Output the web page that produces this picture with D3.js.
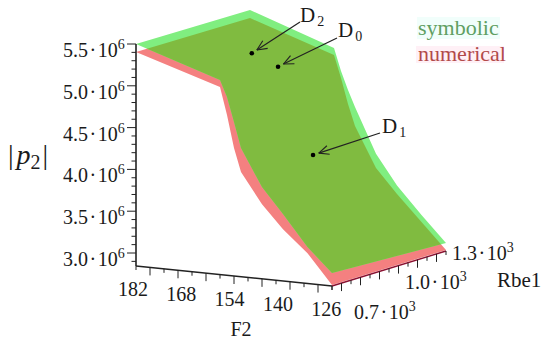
<!DOCTYPE html>
<html>
<head>
<meta charset="utf-8">
<script src="https://cdn.jsdelivr.net/npm/d3@7"></script>
<style>
html,body{margin:0;padding:0;background:#fff}
svg{display:block}
text{font-family:"Liberation Serif",serif;fill:#1a1a1a}
</style>
</head>
<body>
<svg id="c" width="550" height="345"></svg>
<script>
const f2Grid = [182,158,156,154,152,146,140,133,126];
const numericalNear = [5.404,5.089,4.762,4.376,4.097,3.737,3.463,3.207,2.857];
const numericalFar  = [5.392,5.053,4.786,4.483,4.229,3.752,3.467,3.161,2.857];
const symbolicNear  = [5.5,5.172,4.977,4.687,4.384,3.942,3.646,3.281,3.0];
const symbolicFar   = [5.488,5.136,4.87,4.651,4.456,3.921,3.568,3.245,2.94];
const rbeMin = 700, rbeMax = 1300;
const pTickLabels = ["5.5","5.0","4.5","4.0","3.5","3.0"];
const f2TickLabels = [182,168,154,140,126];
const rbeTickLabels = ["0.7","1.0","1.3"];
const pMinorTicks = [2.9,3.0,3.1,3.2,3.3,3.4,3.5,3.6,3.7,3.8,3.9,4.0,4.1,4.2,4.3,4.4,4.5,4.6,4.7,4.8,4.9,5.0,5.1,5.2,5.3,5.4,5.5];
const f2Ticks = [182,178,174,170,166,162,158,154,150,146,142,138,134,130,126];
const f2LongTicks = [178,170,162,154,146,138,130];
const rbeTicks = [700,750,800,850,900,950,1000,1050,1100,1150,1200,1250,1300];
const rbeLongTicks = [750,850,950,1050,1150,1250];
const designNames = ["2","0","1"];
const designF2 = [165.2,157.7,147.7];
const designRbe = [1000,1000,1000];
const designP = [5.251,5.123,4.109];

const svg = d3.select("#c");
const pY = d3.scaleLinear([3.0,5.5],[253,44]);
const fX = d3.scaleLinear([182,126],[136,332]);
const fDY = d3.scaleLinear([182,126],[0,20]);
const rDX = d3.scaleLinear([rbeMin,rbeMax],[0,114]);
const rDY = d3.scaleLinear([rbeMin,rbeMax],[0,-35]);
const floorP = pY.invert(266);
const project = (f,r,p) => [fX(f)+rDX(r), pY(p)+fDY(f)+rDY(r)];
const line = d3.line();

const surface = (near,far) => line(
  f2Grid.map((f,i)=>project(f,rbeMin,near[i])).concat(
  f2Grid.map((f,i)=>project(f,rbeMax,far[i])).reverse())) + "Z";
const numPath = surface(numericalNear,numericalFar);
const symPath = surface(symbolicNear,symbolicFar);

svg.append("clipPath").attr("id","symClip").append("path").attr("d",symPath);
svg.append("path").attr("d",numPath).attr("fill","#f48080");
svg.append("path").attr("d",symPath).attr("fill","#80ee80");
svg.append("path").attr("d",numPath).attr("fill","#80bb40").attr("clip-path","url(#symClip)");

// axes
const axisStroke = "#222";
const seg = (a,b,w) => svg.append("line").attr("x1",a[0]).attr("y1",a[1]).attr("x2",b[0]).attr("y2",b[1]).attr("stroke",axisStroke).attr("stroke-width",w);
seg(project(182,rbeMin,5.5),project(182,rbeMin,floorP),1.6);
seg(project(182,rbeMin,floorP),project(126,rbeMin,floorP),1.4);
svg.append("line").attr("stroke","#8a1030").attr("stroke-width",1.4)
  .attr("x1",project(126,rbeMin,floorP)[0]).attr("y1",project(126,rbeMin,floorP)[1])
  .attr("x2",project(126,rbeMax,floorP)[0]).attr("y2",project(126,rbeMax,floorP)[1]);

pMinorTicks.forEach(p=>{
  const major = pTickLabels.includes(p.toFixed(1));
  const a = project(182,rbeMin,p);
  seg([a[0]-(major?9:4.5),a[1]],a,1);
});
f2Ticks.forEach(f=>{
  const a = project(f,rbeMin,floorP);
  seg(a,[a[0],a[1]+(f2LongTicks.includes(f)?8:4)],1);
});
rbeTicks.forEach(r=>{
  const a = project(126,r,floorP);
  seg(a,[a[0],a[1]+(rbeLongTicks.includes(r)?8:4)],1);
});

// tick labels
const sciLabel = (x,y,mant,exp) => {
  const t = svg.append("text").attr("x",x).attr("y",y).attr("font-size",20);
  t.append("tspan").text(mant);
  t.append("tspan").attr("dx",1.5).text("\u00b7");
  t.append("tspan").attr("dx",1.5).text("10");
  t.append("tspan").attr("dy",-8).attr("font-size",14).text(exp);
};
pTickLabels.forEach(l=>{
  sciLabel(63, pY(+l)+13, l, "6");
});
f2TickLabels.forEach(f=>{
  const a = project(f,rbeMin,floorP);
  svg.append("text").attr("x",a[0]-3-(182-f)*0.05).attr("y",a[1]+30)
    .attr("font-size",20).attr("text-anchor","middle").text(f);
});
const rbeLabelOffset = [[22,33],[16,20.5],[6,9]];
rbeTickLabels.forEach((l,i)=>{
  const r = +l*1000, a = project(126,r,floorP);
  sciLabel(a[0]+rbeLabelOffset[i][0], a[1]+rbeLabelOffset[i][1], l, "3");
});
svg.append("text").attr("x",241).attr("y",336).attr("font-size",20).attr("text-anchor","middle").text("F2");
svg.append("text").attr("x",497).attr("y",287).attr("font-size",21).text("Rbe1");

// |p2|
const yl = svg.append("text").attr("x",8).attr("y",164).attr("font-size",28);
yl.append("tspan").text("|");
yl.append("tspan").attr("dx",3).attr("font-style","italic").text("p");
yl.append("tspan").attr("dy",5).attr("font-size",20).text("2");
yl.append("tspan").attr("dy",-5).attr("dx",2).text("|");

// legend
svg.append("rect").attr("x",417).attr("y",17).attr("width",83).attr("height",22).attr("fill","#f1fefb");
svg.append("rect").attr("x",416).attr("y",46).attr("width",88).attr("height",17).attr("fill","#fff0f6");
svg.append("text").attr("x",418).attr("y",35).attr("font-size",22).style("fill","#5f9f62").text("symbolic");
svg.append("text").attr("x",418).attr("y",61).attr("font-size",22).style("fill","#b24a4a").text("numerical");

// design points, arrows, labels
const labelPos = [[300,22],[338,37],[382,133]];
const tailGap = [[0,0],[-1,1],[-2,0]];
designNames.forEach((n,i)=>{
  const p = project(designF2[i],designRbe[i],designP[i]);
  const L = labelPos[i];
  const tail = [L[0]+tailGap[i][0], L[1]+tailGap[i][1]];
  const ang = Math.atan2(tail[1]-p[1], tail[0]-p[0]);
  const tip = [p[0]+6*Math.cos(ang), p[1]+6*Math.sin(ang)];
  seg(tail,tip,1.2);
  [-0.42,0.42].forEach(d=>{
    seg(tip,[tip[0]+11*Math.cos(ang+d), tip[1]+11*Math.sin(ang+d)],1.1);
  });
  svg.append("circle").attr("cx",p[0]).attr("cy",p[1]).attr("r",2.3).attr("fill","#000");
  const t = svg.append("text").attr("x",L[0]).attr("y",L[1]).attr("font-size",21);
  t.append("tspan").text("D");
  t.append("tspan").attr("dx",2).attr("dy",4).attr("font-size",14).text(n);
});
</script>
</body>
</html>
